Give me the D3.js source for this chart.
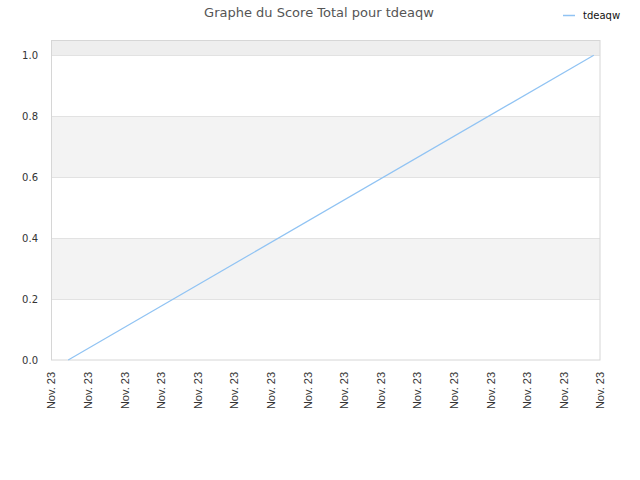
<!DOCTYPE html>
<html><head><meta charset="utf-8">
<script src="https://cdn.jsdelivr.net/npm/d3@7"></script>
<style>body{margin:0;background:#fff}svg{display:block}</style>
</head><body>
<script>
const title = "Graphe du Score Total pour tdeaqw";
const seriesName = "tdeaqw";
const tickLabels = Array.from({length:16}, () => "Nov. 23");
const tickIndex = [0,1,2,3,4,5,6,7,8,9,10,11,12,13,14,15];
const pointX = [0.47, 14.83];
const pointY = [0.0, 1.0];
const yTicks = [0.0, 0.2, 0.4, 0.6, 0.8, 1.0];
const bandStarts = [0.2, 0.6, 1.0];

const W = 640, H = 480;
const m = {l:51, r:40, t:40, b:120};
const svg = d3.select("body").append("svg").attr("width", W).attr("height", H);
const x = d3.scaleLinear().domain([0,15]).range([m.l, W - m.r]);
const y = d3.scaleLinear().domain([0,1.05]).range([H - m.b, m.t]);

svg.append("g").selectAll("rect").data(bandStarts).join("rect")
  .attr("x", m.l).attr("width", x(15) - m.l)
  .attr("y", d => y(Math.min(d + 0.2, 1.05)))
  .attr("height", d => y(d) - y(Math.min(d + 0.2, 1.05)))
  .attr("fill", d => d >= 1 ? "#eeeeee" : "#f3f3f3");

svg.append("g").selectAll("line").data(yTicks.slice(1)).join("line")
  .attr("x1", m.l).attr("x2", x(15))
  .attr("y1", d => Math.round(y(d)) + 0.5).attr("y2", d => Math.round(y(d)) + 0.5)
  .attr("stroke", "#e2e2e2");

svg.append("rect").attr("x", m.l + 0.5).attr("y", m.t + 0.5)
  .attr("width", x(15) - m.l - 0.5).attr("height", y(0) - m.t - 0.5)
  .attr("fill", "none").attr("stroke", "#d6d6d6");

const ya = svg.append("g").attr("transform", `translate(${m.l},0)`)
  .call(d3.axisLeft(y).tickValues(yTicks).tickFormat(d3.format(".1f")).tickSize(0).tickPadding(13));
ya.select(".domain").remove();
ya.selectAll("text").attr("font-family", "DejaVu Sans, sans-serif").attr("font-size", 10).attr("fill", "#333");

const xa = svg.append("g").attr("transform", `translate(0,${y(0)})`)
  .call(d3.axisBottom(x).tickValues(tickIndex).tickFormat((d,i) => tickLabels[i]).tickSize(0));
xa.select(".domain").remove();
xa.selectAll("text")
  .attr("font-family", "Liberation Sans, Arial, sans-serif").attr("font-size", 11).attr("fill", "#333")
  .attr("text-anchor", "end").attr("transform", "rotate(-90)")
  .attr("x", -12).attr("y", 0).attr("dy", "0.35em");

const data = pointX.map((v,i) => [v, pointY[i]]);
svg.append("path").datum(data)
  .attr("d", d3.line().x(d => x(d[0])).y(d => y(d[1])))
  .attr("fill", "none").attr("stroke", "#90c3f3").attr("stroke-width", 1.2);

svg.append("text").attr("x", 319).attr("y", 17).attr("text-anchor", "middle")
  .attr("font-family", "DejaVu Sans, sans-serif").attr("font-size", 13).attr("fill", "#555")
  .text(title);

svg.append("line").attr("x1", 563).attr("x2", 575).attr("y1", 15.5).attr("y2", 15.5)
  .attr("stroke", "#90c3f3").attr("stroke-width", 1.5);
svg.append("text").attr("x", 583).attr("y", 19).attr("font-family", "DejaVu Sans, sans-serif")
  .attr("font-size", 10).attr("fill", "#111").text(seriesName);
</script>
</body></html>
